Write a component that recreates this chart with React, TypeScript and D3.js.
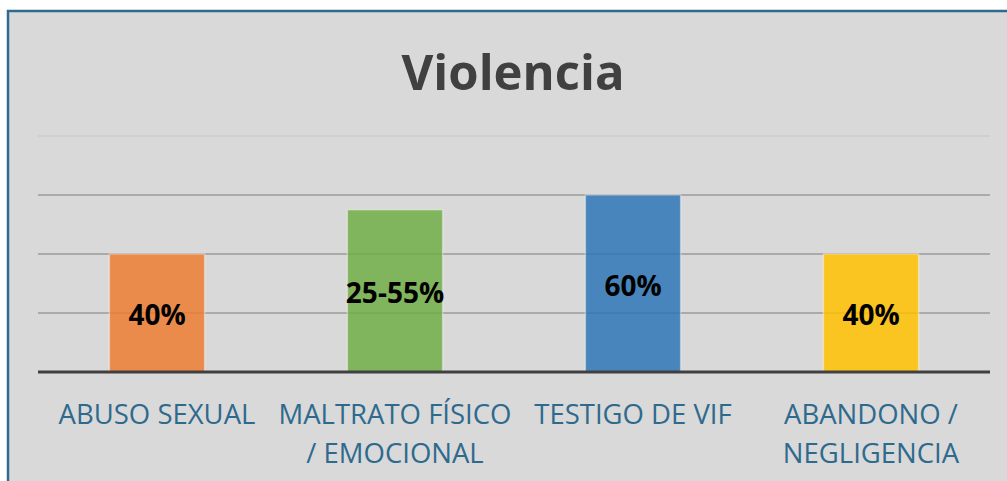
import React from 'react';
import * as d3 from 'd3';

const categories = ['ABUSO SEXUAL', 'MALTRATO FÍSICO / EMOCIONAL', 'TESTIGO DE VIF', 'ABANDONO / NEGLIGENCIA'];
const categoryLines = [['ABUSO SEXUAL'], ['MALTRATO FÍSICO', '/ EMOCIONAL'], ['TESTIGO DE VIF'], ['ABANDONO /', 'NEGLIGENCIA']];
const values = [40, 55, 60, 40];
const valueLabels = ['40%', '25-55%', '60%', '40%'];
const barColors = ['#ed7d31', '#70ad47', '#2e75b6', '#ffc000'];
const gridTicks = [20, 40, 60, 80];

const W = 1007;
const H = 481;
const font = '"Open Sans", sans-serif';

export default function App() {
  const x = d3.scaleBand<string>().domain(categories).range([38, 990]).paddingInner(0.6).paddingOuter(0.3);
  const y = d3.scaleLinear().domain([0, 80]).range([372, 136]);

  return (
    <svg width={W} height={H} style={{ position: 'absolute', left: 0, top: 0 }}>
      <rect x={0} y={0} width={W} height={H} fill="#fff" />
      <rect x={8} y={11} width={W + 10} height={H + 10} fill="#d9d9d9" stroke="#2f6b91" strokeWidth={2.5} />
      <text x={513} y={90} textAnchor="middle" fontFamily={font} fontWeight="bold" fontSize={49} fill="#404040">
        Violencia
      </text>
      {gridTicks.map((t) => (
        <line key={t} x1={38} x2={990} y1={y(t)} y2={y(t)} stroke={t === 80 ? '#cdcdcd' : '#9a9a9a'} strokeWidth={1.5} />
      ))}
      {categories.map((c, i) => (
        <rect
          key={c}
          x={x(c)}
          y={y(values[i])}
          width={x.bandwidth()}
          height={y(0) - y(values[i])}
          fill={barColors[i]}
          fillOpacity={0.85}
          stroke="#fff"
          strokeOpacity={0.4}
          strokeWidth={1.5}
        />
      ))}
      <line x1={38} x2={990} y1={y(0)} y2={y(0)} stroke="#404040" strokeWidth={3} />
      {categories.map((c, i) => (
        <text
          key={c}
          x={x(c)! + x.bandwidth() / 2}
          y={(y(values[i]) + y(0)) / 2 + 12}
          textAnchor="middle"
          fontFamily={font}
          fontWeight="bold"
          fontSize={28}
          fill="#000"
        >
          {valueLabels[i]}
        </text>
      ))}
      {categories.map((c, i) => (
        <text key={c} textAnchor="middle" fontFamily={font} fontSize={27.5} fill="#2e6a8e">
          {categoryLines[i].map((l, j) => (
            <tspan key={j} x={x(c)! + x.bandwidth() / 2} y={424 + j * 39}>
              {l}
            </tspan>
          ))}
        </text>
      ))}
    </svg>
  );
}
